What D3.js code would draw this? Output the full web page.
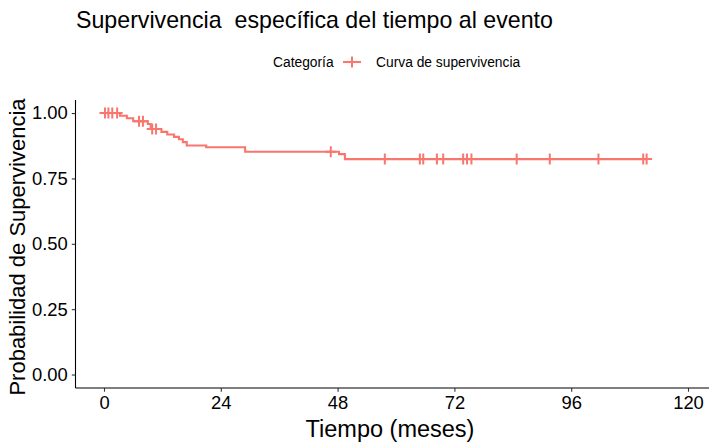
<!DOCTYPE html>
<html>
<head>
<meta charset="utf-8">
<script src="https://cdn.jsdelivr.net/npm/d3@7"></script>
<style>
  html, body { margin: 0; padding: 0; background: #fff; }
  svg { display: block; font-family: "Liberation Sans", Arial, sans-serif; }
</style>
</head>
<body>
<svg id="chart" width="709" height="442"></svg>
<script>
// Kaplan–Meier step function: time (months) at which each level starts, and the survival level
const stepTimes = [0, 3.3, 4.7, 6.0, 9.0, 9.6, 11.8, 13.0, 14.4, 15.4, 16.2, 17.0, 21.0, 29.0, 48.3, 49.5];
const stepSurv  = [1.000, 0.990, 0.980, 0.969, 0.958, 0.939, 0.928, 0.918, 0.909, 0.900, 0.889, 0.876, 0.869, 0.852, 0.843, 0.824];
// Censored observations (months)
const censorTimes = [0.2, 0.9, 1.7, 2.7, 7.2, 8.0, 9.9, 10.7, 46.6, 57.7, 64.9, 65.6, 68.4, 69.7,
                     73.8, 74.6, 75.5, 84.8, 91.6, 101.6, 110.8, 111.5];
const lastTime = 111.5;

const xTicks = [0, 24, 48, 72, 96, 120];
const yTicks = [0, 0.25, 0.5, 0.75, 1.0];

const titleText = "Supervivencia  específica del tiempo al evento";
const xTitle = "Tiempo (meses)";
const yTitle = "Probabilidad de Supervivencia";
const legendTitle = "Categoría";
const seriesName = "Curva de supervivencia";
const color = "#F8766D";

const svg = d3.select("#chart");

const x = d3.scaleLinear().domain([-6, 126]).range([74.8, 717.2]);
const y = d3.scaleLinear().domain([-0.05, 1.05]).range([387.6, 100]);

// survival at time t from the step function
function survAt(t) {
  let s = stepSurv[0];
  for (let i = 0; i < stepTimes.length; i++) if (stepTimes[i] <= t) s = stepSurv[i];
  return s;
}

// Title
svg.append("text")
  .attr("x", 76).attr("y", 28)
  .attr("font-size", 23.2).attr("fill", "#000")
  .style("white-space", "pre")
  .attr("xml:space", "preserve")
  .text(titleText);

// Legend
const lg = svg.append("g");
lg.append("text").attr("x", 273).attr("y", 67).attr("font-size", 13.8).text(legendTitle);
lg.append("line").attr("x1", 343).attr("x2", 361).attr("y1", 62).attr("y2", 62)
  .attr("stroke", color).attr("stroke-width", 2.1);
lg.append("path").attr("d", "M346.5,62H357.5M352,56.5V67.5").attr("stroke", color).attr("stroke-width", 2).attr("fill", "none");
lg.append("text").attr("x", 376).attr("y", 67).attr("font-size", 13.8).text(seriesName);

// Survival curve
const pts = [];
stepTimes.forEach((t, i) => pts.push([t, stepSurv[i]]));
pts.push([lastTime, stepSurv[stepSurv.length - 1]]);
const line = d3.line().x(d => x(d[0])).y(d => y(d[1])).curve(d3.curveStepAfter);
svg.append("path").datum(pts).attr("d", line)
  .attr("fill", "none").attr("stroke", color).attr("stroke-width", 2.1);

// Censor marks
svg.append("g").selectAll("path").data(censorTimes).join("path")
  .attr("transform", d => `translate(${x(d)},${y(survAt(d))})`)
  .attr("d", "M-5.5,0H5.5M0,-5.5V5.5")
  .attr("stroke", color).attr("stroke-width", 2).attr("fill", "none");

// Axes
const xAxis = d3.axisBottom(x).tickValues(xTicks).tickSize(3.7).tickPadding(4).tickFormat(d3.format("d"));
const gx = svg.append("g").attr("transform", "translate(0,388)").call(xAxis);
const yAxis = d3.axisLeft(y).tickValues(yTicks).tickSize(3.7).tickPadding(4).tickFormat(d3.format(".2f"));
const gy = svg.append("g").attr("transform", "translate(75.5,0)").call(yAxis);
[gx, gy].forEach(g => {
  g.select(".domain").attr("stroke", "#000").attr("stroke-width", 1.1);
  g.selectAll(".tick line").attr("stroke", "#333").attr("stroke-width", 1.1);
  g.selectAll(".tick text").attr("fill", "#000").attr("font-size", 18.4).attr("font-family", "Liberation Sans, Arial, sans-serif");
});
gy.select(".domain").attr("d", "M0,100V388");
gx.select(".domain").attr("d", "M75.5,0H717");

// Axis titles
svg.append("text").attr("x", 390).attr("y", 437).attr("text-anchor", "middle")
  .attr("font-size", 23.5).text(xTitle);
svg.append("text").attr("transform", "translate(25,247) rotate(-90)").attr("text-anchor", "middle")
  .attr("font-size", 22).text(yTitle);
</script>
</body>
</html>
